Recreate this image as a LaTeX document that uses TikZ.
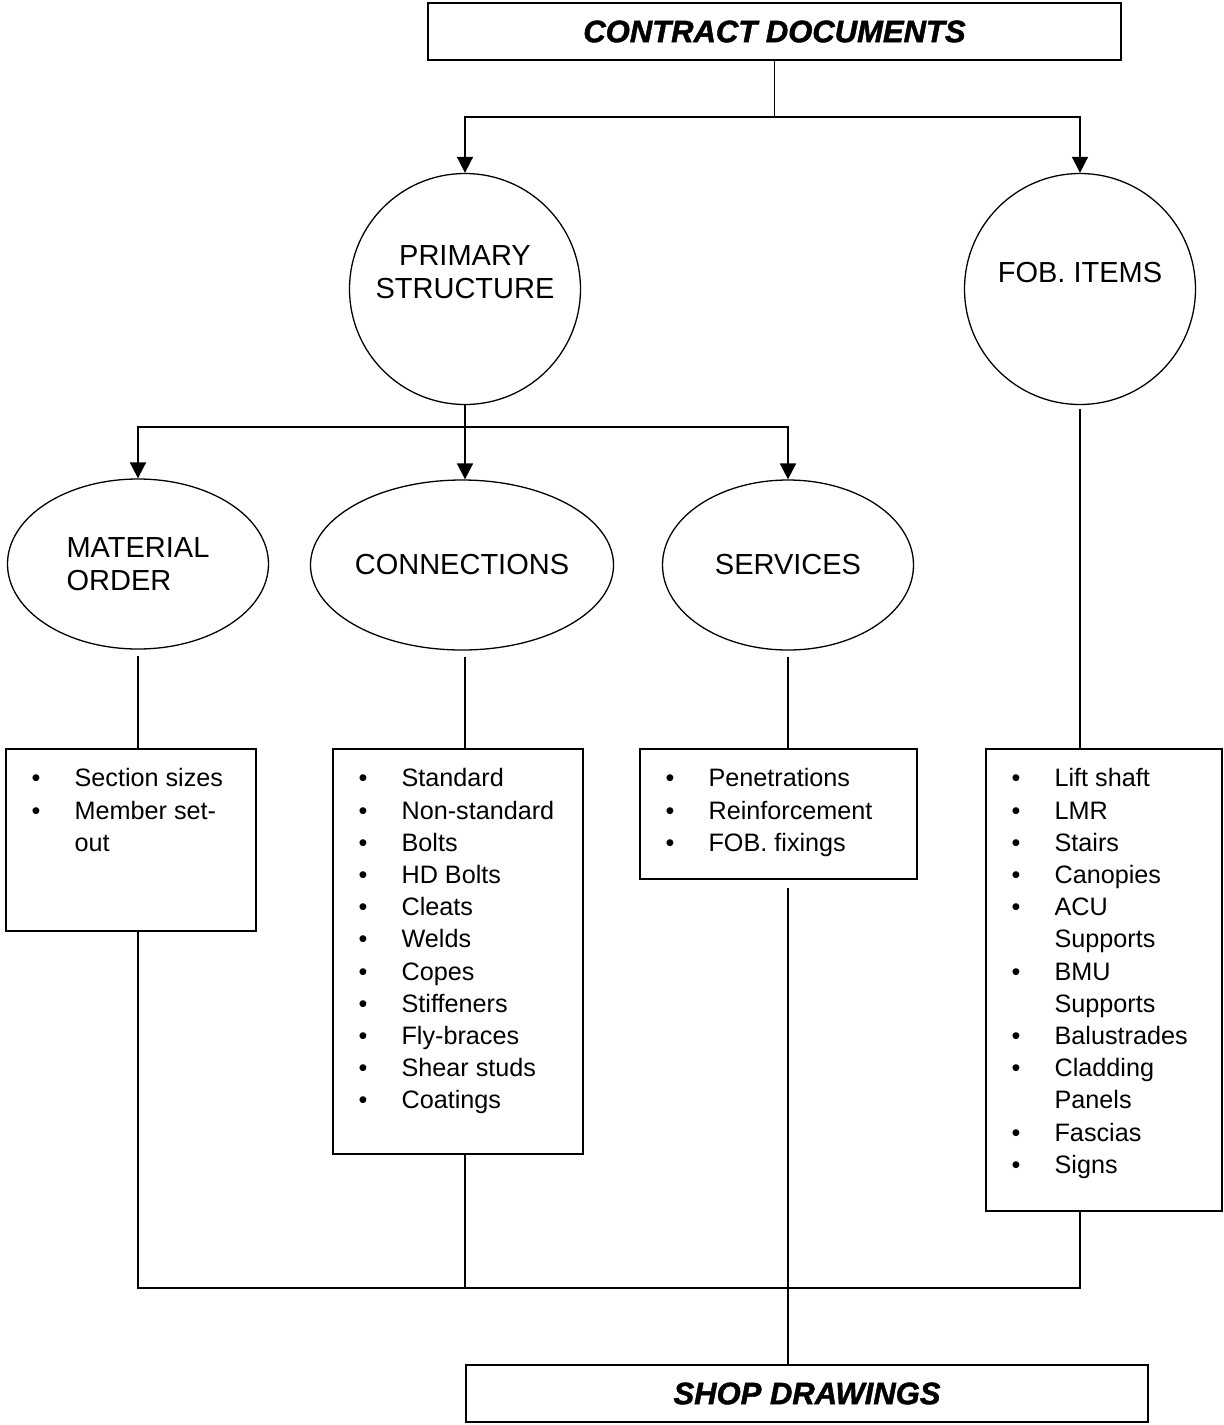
\documentclass[tikz,border=0pt]{standalone}
\usepackage{fontspec}
\setmainfont{Liberation Sans}
\usetikzlibrary{arrows.meta}
\usetikzlibrary{calc}
\usetikzlibrary{positioning}
\usetikzlibrary{shapes.geometric}

\newcommand{\listfont}{\fontsize{12.6}{16.1}\selectfont}
\newcommand{\shapefont}{\fontsize{14.5}{16.75}\selectfont}
\newcommand{\titlefont}{\fontsize{15.5}{18}\selectfont\bfseries\itshape\addfontfeatures{FakeBold=1.5}}
\newcommand{\bulletbox}[3]{\parbox[t][#2][t]{#1}{\vspace*{7.7pt}\hspace*{12.8pt}\begin{tabular}[t]{@{}p{21.5pt}@{}l@{}}#3\end{tabular}}}

\tikzset{
  titlebox/.style={draw,rectangle,line width=1pt,minimum height=28.5pt,inner sep=0pt,font=\titlefont},
  roundbox/.style={draw,circle,line width=0.65pt,minimum size=115.5pt,inner sep=0pt,align=center,font=\shapefont},
  ovalbox/.style={draw,ellipse,line width=0.65pt,minimum height=85pt,inner sep=0pt,font=\shapefont},
  listbox/.style={draw,rectangle,line width=1pt,inner sep=0pt,anchor=north west,font=\listfont},
  link/.style={line width=0.9pt},
  feed/.style={link,->,>={Triangle[width=8pt,length=8pt]}}
}

\begin{document}
\begin{tikzpicture}[x=0.5pt,y=-0.5pt]
  \useasboundingbox (0,0) rectangle (1223,1425);

  \node [titlebox,minimum width=346.5pt] (contract) at (774.5,31.5) {CONTRACT DOCUMENTS};

  \node [roundbox] (primary) at (465,289) {PRIMARY\\STRUCTURE\\\mbox{}};
  \node [roundbox] (fob) at (1080,289) {FOB. ITEMS\\\mbox{}};

  \node [ovalbox,minimum width=130.5pt,align=left] (mat) at (138,564) {MATERIAL\\ORDER};
  \node [ovalbox,minimum width=147pt] (con) at (462,565) {CONNECTIONS};
  \node [ovalbox,minimum width=125.5pt] (srv) at (788,565) {SERVICES};

  \node [listbox] (mat_list) at (5,748) {\bulletbox{125pt}{91pt}{
    \textbullet & Section sizes\\
    \textbullet & Member set-\\
    & out}};

  \node [listbox] (con_list) at (332,748) {\bulletbox{125pt}{202.5pt}{
    \textbullet & Standard\\
    \textbullet & Non-standard\\
    \textbullet & Bolts\\
    \textbullet & HD Bolts\\
    \textbullet & Cleats\\
    \textbullet & Welds\\
    \textbullet & Copes\\
    \textbullet & Stiffeners\\
    \textbullet & Fly-braces\\
    \textbullet & Shear studs\\
    \textbullet & Coatings}};

  \node [listbox] (srv_list) at (639,748) {\bulletbox{138.5pt}{65pt}{
    \textbullet & Penetrations\\
    \textbullet & Reinforcement\\
    \textbullet & FOB. fixings}};

  \node [listbox] (fob_list) at (985,748) {\bulletbox{118pt}{231pt}{
    \textbullet & Lift shaft\\
    \textbullet & LMR\\
    \textbullet & Stairs\\
    \textbullet & Canopies\\
    \textbullet & ACU\\
    & Supports\\
    \textbullet & BMU\\
    & Supports\\
    \textbullet & Balustrades\\
    \textbullet & Cladding\\
    & Panels\\
    \textbullet & Fascias\\
    \textbullet & Signs}};

  \node [titlebox,minimum width=341pt] (shop) at (807,1393.5) {SHOP DRAWINGS};

  \coordinate (top_split) at (774.5,117);
  \coordinate (mid_split) at (465,427);
  \coordinate (merge) at (465,1288);

  % contract documents to the two groups
  \draw [link] (contract) -- (top_split);
  \draw [feed] (top_split) -| (primary.north);
  \draw [feed] (top_split) -| (fob.north);

  \draw [link] (primary) -- (mid_split);
  \draw [feed] (mid_split) -| (mat.north);
  \draw [feed] (mid_split) -- (mid_split |- con.north);
  \draw [feed] (mid_split) -| (srv.north);

  \draw [link,shorten <=3pt] (mat.south) -- (mat.south |- mat_list.north);
  \draw [link,shorten <=3pt] (mid_split |- con.south) -- (mid_split |- con_list.north);
  \draw [link,shorten <=3pt] (srv.south) -- (srv.south |- srv_list.north);
  \draw [link,shorten <=2pt] (fob.south) -- (fob.south |- fob_list.north);

  % everything down to the shop drawings
  \draw [link] (mat.south |- mat_list.south) |- (merge) -| (fob.south |- fob_list.south);
  \draw [link] (con_list.south -| merge) -- (merge);
  \draw [link,shorten <=4pt] (srv.south |- srv_list.south) -- (srv.south |- shop.north);

\end{tikzpicture}
\end{document}
